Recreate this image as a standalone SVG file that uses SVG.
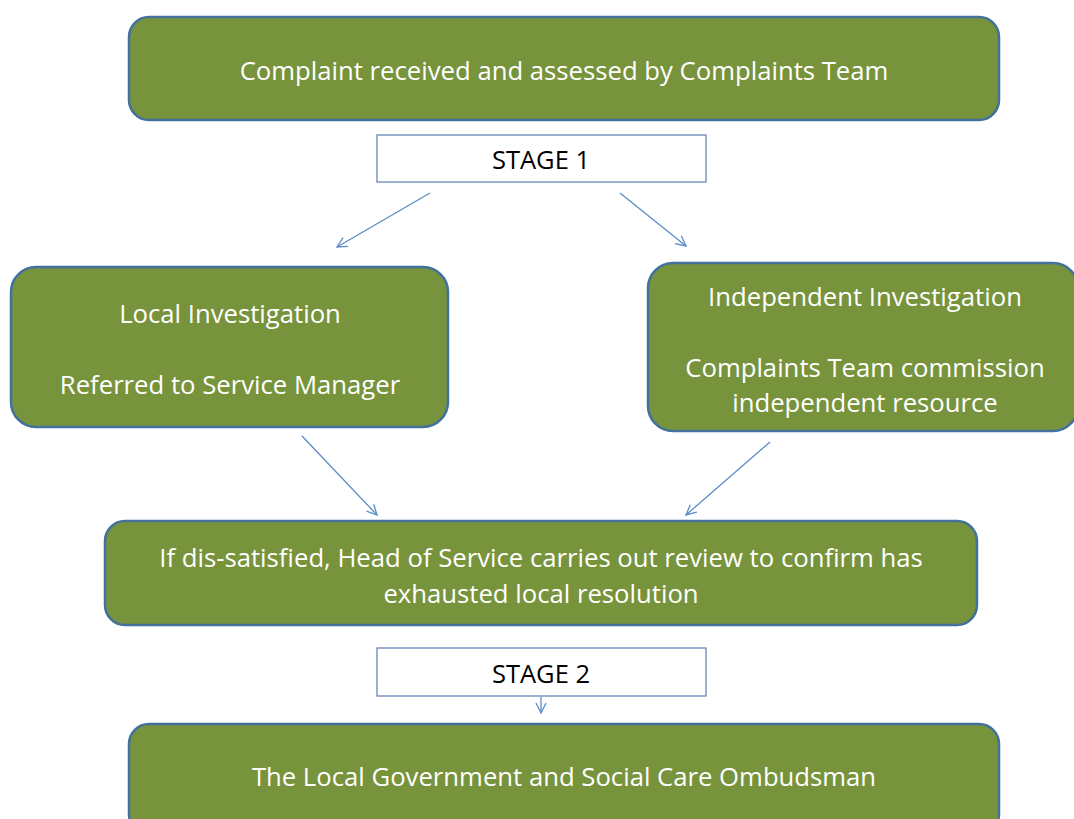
<svg xmlns="http://www.w3.org/2000/svg" width="1074" height="819" viewBox="0 0 1074 819">
<defs>
<style>
.node{fill:#77933C;stroke:#41719C;stroke-width:2.5}
.stage{fill:#FFFFFF;stroke:#5B7DB1;stroke-width:1.2}
.t{font-family:"Open Sans","Noto Sans",sans-serif;font-size:25.7px;fill:#FFFFFF;text-anchor:middle;dominant-baseline:central}
.s{font-family:"Open Sans","Noto Sans",sans-serif;font-size:25.5px;fill:#000000;text-anchor:middle;dominant-baseline:central}
.c{stroke:#5B8CC8;stroke-width:1.3;fill:none;marker-end:url(#ah)}
</style>
<marker id="ah" viewBox="0 0 12 12" refX="11" refY="6" markerWidth="12" markerHeight="12" markerUnits="userSpaceOnUse" orient="auto">
<path d="M1,1 L11,6 L1,11" fill="none" stroke="#5B8CC8" stroke-width="1.3"/>
</marker>
</defs>
<rect width="1074" height="819" fill="#FFFFFF"/>
<g id="connectors">
<line class="c" x1="430" y1="193" x2="337" y2="247"/>
<line class="c" x1="620" y1="193" x2="686" y2="246"/>
<line class="c" x1="302" y1="436" x2="377" y2="515"/>
<line class="c" x1="770" y1="442" x2="686" y2="515"/>
<line class="c" x1="541" y1="697" x2="541" y2="713"/>
</g>
<g id="complaint-received">
<rect class="node" x="129" y="17" width="870" height="103" rx="20"/>
<text class="t" x="564" y="70">Complaint received and assessed by Complaints Team</text>
</g>
<g id="stage1">
<rect class="stage" x="377" y="135" width="329" height="47"/>
<text class="s" x="541" y="159">STAGE 1</text>
</g>
<g id="local-investigation">
<rect class="node" x="11" y="267" width="437" height="160" rx="25"/>
<text class="t" x="230" y="313">Local Investigation</text>
<text class="t" x="230" y="384">Referred to Service Manager</text>
</g>
<g id="independent-investigation">
<rect class="node" x="648" y="263" width="430" height="168" rx="25"/>
<text class="t" x="865" y="296">Independent Investigation</text>
<text class="t" x="865" y="367">Complaints Team commission</text>
<text class="t" x="865" y="402">independent resource</text>
</g>
<g id="review">
<rect class="node" x="105" y="521" width="872" height="104" rx="20"/>
<text class="t" x="541" y="557">If dis-satisfied, Head of Service carries out review to confirm has</text>
<text class="t" x="541" y="593">exhausted local resolution</text>
</g>
<g id="stage2">
<rect class="stage" x="377" y="648" width="329" height="48"/>
<text class="s" x="541" y="673">STAGE 2</text>
</g>
<g id="ombudsman">
<rect class="node" x="129" y="724" width="870" height="110" rx="20"/>
<text class="t" x="564" y="776">The Local Government and Social Care Ombudsman</text>
</g>
</svg>
